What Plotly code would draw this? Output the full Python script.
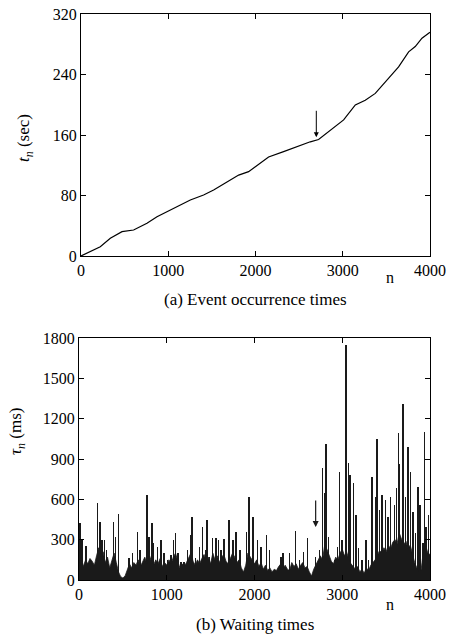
import plotly.graph_objects as go

# ---- Panel (a): event occurrence times ----
n_a = [0, 221, 336, 470, 603, 756, 871, 1023, 1138, 1253, 1405, 1520, 1654, 1807, 1921, 2017,
       2150, 2322, 2476, 2628, 2723, 2857, 3010, 3144, 3258, 3373, 3526, 3640, 3755, 3831, 3908, 4000]
t_a = [0, 12.3, 23.4, 32.2, 34.4, 43.2, 52, 60.8, 67.5, 74, 80.7, 87.3, 96.5, 107, 111.5, 120,
       131, 138, 144.6, 151, 154, 166.7, 180, 199.7, 206, 215, 235, 250, 270, 277, 288, 296]

# ---- Panel (b): waiting times ----
band_n = list(range(0, 4001, 25))
band_ms = [130, 170, 100, 150, 120, 160, 140, 110, 180, 240, 170, 210, 130, 170, 90, 150, 200, 130, 60, 25,
           15, 30, 80, 120, 90, 130, 110, 150, 100, 130, 170, 120, 190, 140, 110, 150, 120, 160, 100, 130,
           110, 150, 120, 170, 200, 140, 90, 120, 100, 130, 170, 200, 140, 110, 150, 120, 160, 190, 140, 170,
           120, 200, 150, 180, 130, 170, 190, 140, 120, 160, 200, 170, 130, 150, 90, 60, 110, 200, 170, 150,
           120, 150, 100, 130, 80, 110, 70, 90, 60, 80, 70, 100, 120, 90, 110, 80, 70, 130, 100, 120,
           80, 110, 130, 90, 100, 60, 30, 80, 110, 140, 180, 150, 260, 230, 180, 140, 120, 170, 150, 200,
           230, 180, 210, 150, 120, 100, 80, 100, 60, 80, 50, 90, 70, 110, 130, 150, 180, 220, 200, 240,
           210, 260, 230, 280, 300, 270, 350, 300, 260, 290, 230, 260, 190, 130, 90, 60, 80, 220, 260, 200,
           190]

spike_n = [11, 34, 80, 213, 239, 262, 292, 315, 395, 414, 452, 573, 611, 665, 695, 745, 775, 801, 832, 847,
           896, 934, 972, 1010, 1045, 1075, 1098, 1128, 1162, 1200, 1238, 1269, 1288, 1326, 1371, 1409, 1440,
           1459, 1485, 1523, 1561, 1588, 1619, 1653, 1710, 1752, 1786, 1835, 1911, 1938, 1980, 2036, 2074,
           2139, 2169, 2302, 2328, 2397, 2465, 2511, 2560, 2606, 2693, 2739, 2773, 2796, 2815, 2845, 2910,
           2948, 2967, 2997, 3043, 3073, 3088, 3126, 3157, 3187, 3225, 3271, 3301, 3339, 3377, 3396, 3423,
           3453, 3491, 3518, 3548, 3594, 3620, 3639, 3651, 3689, 3719, 3746, 3776, 3803, 3833, 3860, 3887,
           3917, 3936, 3955, 3985]
spike_ms = [426, 297, 252, 575, 433, 297, 297, 223, 433, 322, 490, 160, 198, 357, 223, 160, 631, 322, 421, 272,
            248, 297, 198, 149, 186, 297, 347, 198, 136, 136, 223, 334, 470, 161, 248, 396, 223,
            450, 173, 310, 310, 297, 223, 302, 446, 297, 359, 223, 359, 614, 470, 297, 247,
            334, 223, 173, 198, 203, 364, 149, 210, 310, 173, 223, 830, 644, 1015, 322, 149,
            248, 805, 297, 1746, 871, 779, 718, 483, 235, 149, 297, 149, 768, 619, 1050, 520,
            631, 594, 470, 619, 557, 681, 1094, 866, 1307, 619, 990, 805, 507, 347, 693, 557,
            272, 1102, 396, 483]

arrow_n = 2697

FONT = "'Liberation Serif', 'Times New Roman', serif"
INK = "#1a1a1a"

fig = go.Figure()
fig.add_trace(go.Scatter(x=n_a, y=t_a, mode="lines", line=dict(color="black", width=1.2),
                         xaxis="x", yaxis="y", showlegend=False))
fig.add_trace(go.Scatter(x=band_n, y=band_ms, mode="lines", fill="tozeroy", fillcolor=INK,
                         line=dict(color=INK, width=0.8), xaxis="x2", yaxis="y2", showlegend=False))
fig.add_trace(go.Bar(x=spike_n, y=spike_ms, width=7, marker=dict(color=INK, line=dict(width=0)),
                     xaxis="x2", yaxis="y2", showlegend=False))

axis_common = dict(showline=True, linecolor="black", linewidth=1.2, mirror="ticks", ticks="inside",
                   ticklen=5, tickwidth=1, tickcolor="black", showgrid=False, zeroline=False,
                   automargin=False, tickfont=dict(family=FONT, size=16, color="black"))

fig.update_layout(
    template="none",
    width=450, height=634, margin=dict(l=0, r=0, t=0, b=0, pad=0), autosize=False,
    paper_bgcolor="white", plot_bgcolor="white", bargap=0,
    font=dict(family=FONT, size=16, color="black"),
    xaxis=dict(domain=[81/450, 430/450], range=[0, 4000], tickvals=[0, 1000, 2000, 3000, 4000],
               anchor="y", **axis_common),
    yaxis=dict(domain=[(634-256)/634, (634-14)/634], range=[0, 320], tickvals=[0, 80, 160, 240, 320],
               anchor="x", **axis_common),
    xaxis2=dict(domain=[79/450, 430/450], range=[0, 4000], tickvals=[0, 1000, 2000, 3000, 4000],
                anchor="y2", **axis_common),
    yaxis2=dict(domain=[(634-580)/634, (634-338)/634], range=[0, 1800],
                tickvals=[0, 300, 600, 900, 1200, 1500, 1800], anchor="x2", **axis_common),
)

fig.add_annotation(x=arrow_n, y=157, ax=arrow_n, ay=194, xref="x", yref="y", axref="x", ayref="y",
                   showarrow=True, arrowhead=2, arrowsize=1, arrowwidth=1, arrowcolor="black", text="")
fig.add_annotation(x=arrow_n, y=394, ax=arrow_n, ay=602, xref="x2", yref="y2", axref="x2", ayref="y2",
                   showarrow=True, arrowhead=2, arrowsize=1, arrowwidth=1.2, arrowcolor=INK, text="")

# axis titles
fig.add_annotation(text="<i>t</i><sub><i>n</i></sub> (sec)", x=25/450, y=1-138/634, xref="paper", yref="paper",
                   showarrow=False, textangle=-90, xanchor="center", yanchor="middle",
                   font=dict(family=FONT, size=17))
fig.add_annotation(text="<i>τ</i><sub><i>n</i></sub> (ms)", x=17/450, y=1-432/634, xref="paper", yref="paper",
                   showarrow=False, textangle=-90, xanchor="center", yanchor="middle",
                   font=dict(family=FONT, size=17))

fig.add_annotation(text="n", x=390/450, y=1-278/634, xref="paper", yref="paper", showarrow=False,
                   xanchor="center", yanchor="middle", font=dict(family=FONT, size=16))
fig.add_annotation(text="n", x=390/450, y=1-604/634, xref="paper", yref="paper", showarrow=False,
                   xanchor="center", yanchor="middle", font=dict(family=FONT, size=16))
fig.add_annotation(text="(a) Event occurrence times", x=255/450, y=1-300/634, xref="paper", yref="paper",
                   showarrow=False, xanchor="center", yanchor="middle", font=dict(family=FONT, size=17))
fig.add_annotation(text="(b) Waiting times", x=255/450, y=1-624/634, xref="paper", yref="paper",
                   showarrow=False, xanchor="center", yanchor="middle", font=dict(family=FONT, size=17))

fig.write_html("out.html")
